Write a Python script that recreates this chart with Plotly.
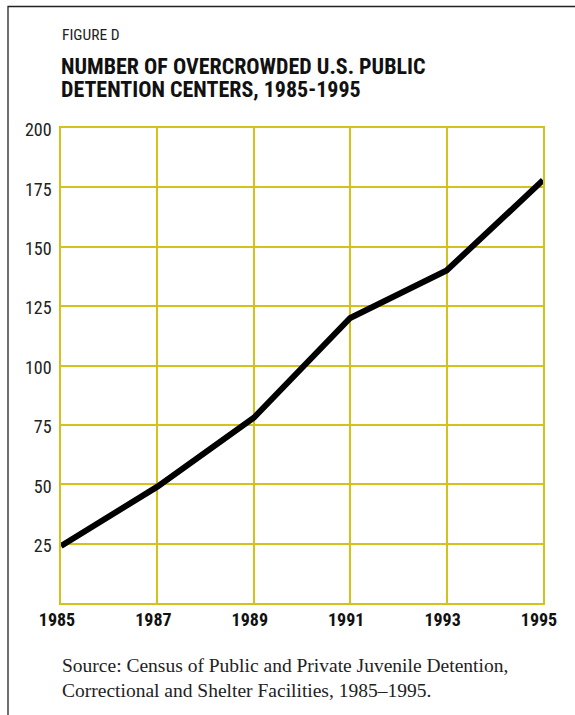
import plotly.graph_objects as go

years = [1985, 1987, 1989, 1991, 1993, 1995]
centers = [24, 49, 78, 120, 140, 178]
y_ticks = [25, 50, 75, 100, 125, 150, 175, 200]
x_ticks = [1985, 1987, 1989, 1991, 1993, 1995]

W, H = 575, 715
L, R, T, B = 61, 32, 128, 112
pw, ph = W - L - R, H - T - B

def px(x):
    return (x - L) / pw

def py(y):
    return (H - B - y) / ph

GRID = "#d4c21c"
COND = "Roboto Condensed, sans-serif"
SERIF = "Liberation Serif, serif"

fig = go.Figure()
fig.add_trace(go.Scatter(
    x=years, y=centers, mode="lines",
    line=dict(color="black", width=6),
    hoverinfo="skip", showlegend=False,
))

def note(text, x, y, font):
    return dict(text=text, xref="paper", yref="paper", x=px(x), y=py(y),
                xanchor="left", yanchor="middle", align="left", showarrow=False, font=font)

fig.update_layout(
    width=W, height=H,
    margin=dict(l=L, r=R, t=T, b=B),
    paper_bgcolor="white", plot_bgcolor="white",
    xaxis=dict(
        range=[1985, 1995], tickvals=x_ticks, ticktext=[str(v) for v in x_ticks],
        showgrid=True, gridcolor=GRID, gridwidth=1.5,
        showline=True, linecolor=GRID, linewidth=1.5, mirror=True,
        zeroline=False, ticks="", ticklen=0, ticklabelstandoff=0, ticklabelshift=-4,
        tickfont=dict(family=COND, size=18, color="#111", weight="bold"),
    ),
    yaxis=dict(
        range=[0, 200], tickvals=y_ticks,
        showgrid=True, gridcolor=GRID, gridwidth=1.5,
        showline=True, linecolor=GRID, linewidth=1.5, mirror=True,
        zeroline=False, ticks="", ticklen=0, ticklabelstandoff=4, ticklabelshift=2,
        tickfont=dict(family=COND, size=18, color="#222"),
    ),
    shapes=[dict(
        type="rect", xref="paper", yref="paper",
        x0=px(8), x1=px(590), y0=py(6.5), y1=py(740),
        line=dict(color="#222", width=1.3), fillcolor="rgba(0,0,0,0)", layer="below",
    )],
    annotations=[
        note("FIGURE D", 60, 35, dict(family=COND, size=15.5, color="#222")),
        note("<b>NUMBER OF OVERCROWDED U.S. PUBLIC</b>", 59, 66,
             dict(family=COND, size=22, color="#111")),
        note("<b>DETENTION CENTERS, 1985-1995</b>", 59, 90,
             dict(family=COND, size=22, color="#111")),
        note("Source: Census of Public and Private Juvenile Detention,<br>Correctional and Shelter Facilities, 1985\u20131995.",
             60, 678, dict(family=SERIF, size=19.5, color="#222")),
    ],
)

fig.write_html("out.html", config={"displayModeBar": False},
               post_script="document.body.style.margin='0';")
